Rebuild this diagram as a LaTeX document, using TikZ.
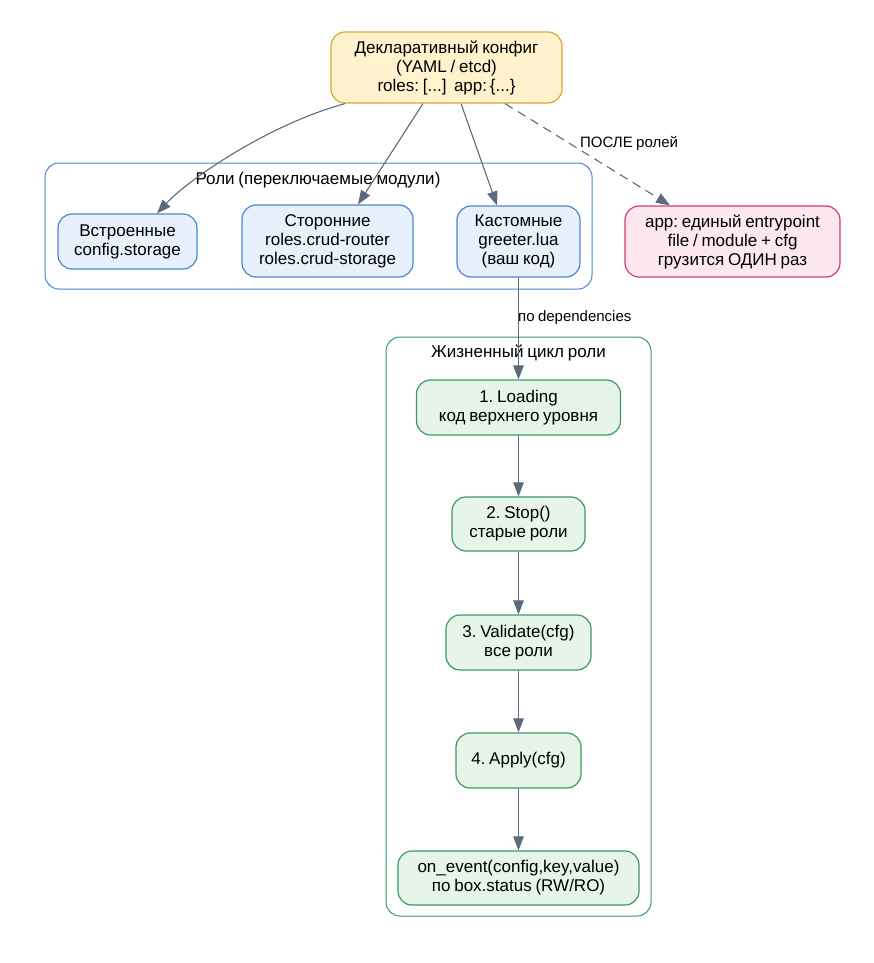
\documentclass[tikz,border=0pt]{standalone}
\usepackage{fontspec}
\setmainfont{Liberation Sans}[WordSpace=0.8]
\frenchspacing
\usetikzlibrary{arrows.meta}
\definecolor{edgec}{HTML}{5B6B7C}
\definecolor{cfgfill}{HTML}{FFF2CC}
\definecolor{cfgdraw}{HTML}{D6A935}
\definecolor{rolefill}{HTML}{E8F0FC}
\definecolor{roledraw}{HTML}{4A86D4}
\definecolor{appfill}{HTML}{FDE8EF}
\definecolor{appdraw}{HTML}{D63A7E}
\definecolor{lcfill}{HTML}{E6F4EA}
\definecolor{lcdraw}{HTML}{3A9A64}
\tikzset{
  base/.style={draw, rounded corners=14pt, line width=1.2pt, align=center, inner sep=1pt,
    font=\fontsize{17}{19}\selectfont},
  cfgbox/.style={base, fill=cfgfill, draw=cfgdraw},
  rolebox/.style={base, fill=rolefill, draw=roledraw},
  appbox/.style={base, fill=appfill, draw=appdraw},
  lcbox/.style={base, fill=lcfill, draw=lcdraw},
  cluster/.style={rounded corners=14pt, line width=1pt},
  clabel/.style={font=\fontsize{17}{18}\selectfont, inner sep=0pt},
  elabel/.style={font=\fontsize{15}{16}\selectfont, inner sep=0pt},
  conn/.style={draw=edgec, line width=1.1pt, -{Triangle[length=14pt,width=10.5pt]}},
}
\begin{document}
\begin{tikzpicture}[x=1pt,y=-1pt]
\useasboundingbox (0,0) rectangle (874,963);
% clusters
\draw[cluster, draw=roledraw] (45,163) rectangle (592,289);
\node[clabel] (rolesl) at (318,180) {Роли (переключаемые модули)};
\draw[cluster, draw=lcdraw] (386,337) rectangle (651,916);
\node[clabel] (lcl) at (518.5,353) {Жизненный цикл роли};
% nodes
\node[cfgbox, minimum width=231pt, minimum height=71pt] (cfg) at (446.5,67.5)
  {Декларативный конфиг\\(YAML / etcd)\\roles: [...]\ \ app:\,\{...\}};
\node[rolebox, minimum width=139pt, minimum height=55pt] (bi) at (127.5,241.5)
  {Встроенные\\config.storage};
\node[rolebox, minimum width=171pt, minimum height=72pt] (st) at (327.5,241)
  {Сторонние\\roles.crud-router\\roles.crud-storage};
\node[rolebox, minimum width=123pt, minimum height=71pt] (cu) at (518.5,241.5)
  {Кастомные\\greeter.lua\\(ваш код)};
\node[appbox, minimum width=215pt, minimum height=71pt] (app) at (732.5,241.5)
  {app: единый entrypoint\\file / module + cfg\\грузится ОДИН раз};
\node[lcbox, minimum width=204pt, minimum height=55pt] (l1) at (518.5,407.5)
  {1. Loading\\код верхнего уровня};
\node[lcbox, minimum width=133pt, minimum height=54pt] (l2) at (518.5,524)
  {2. Stop()\\старые роли};
\node[lcbox, minimum width=145pt, minimum height=55pt] (l3) at (518.5,642.5)
  {3. Validate(cfg)\\все роли};
\node[lcbox, minimum width=125pt, minimum height=55pt] (l4) at (518.5,760.5)
  {4. Apply(cfg)};
\node[lcbox, minimum width=241pt, minimum height=54pt] (l5) at (518.5,878)
  {on\_event(config,key,value)\\по box.status (RW/RO)};
% edges
\draw[conn] ([xshift=-101.5pt]cfg.south) .. controls (270,124) and (190,178) .. ([xshift=29.5pt]bi.north);
\draw[conn] ([xshift=-23.5pt]cfg.south) -- ([xshift=30.5pt]st.north);
\draw[conn] ([xshift=14.5pt]cfg.south) -- ([xshift=-21.5pt]cu.north);
\draw[conn, dash pattern=on 9pt off 6pt] ([xshift=58.5pt]cfg.south) -- ([xshift=-62.5pt]app.north);
\node[elabel, anchor=west] (afterl) at (580,143) {ПОСЛЕ ролей};
\draw[conn] (cu.south) -- (l1.north);
\node[elabel, anchor=west] (depl) at (518,318) {по dependencies};
\draw[conn] (l1) -- (l2);
\draw[conn] (l2) -- (l3);
\draw[conn] (l3) -- (l4);
\draw[conn] (l4) -- (l5);
\end{tikzpicture}
\end{document}
